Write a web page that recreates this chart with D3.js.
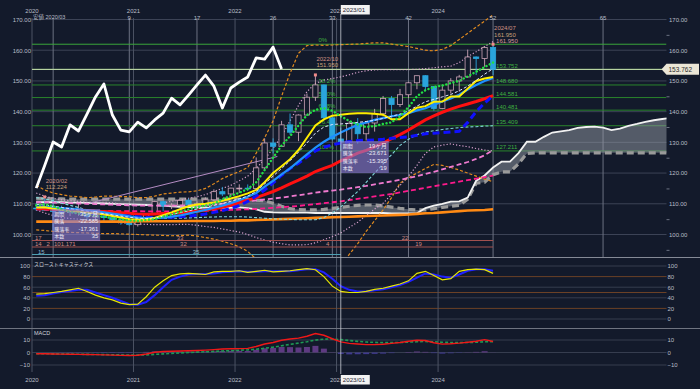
<!DOCTYPE html>
<html>
<head>
<meta charset="utf-8">
<script src="https://cdn.jsdelivr.net/npm/d3@7"></script>
<style>
  html, body { margin: 0; padding: 0; background: #131a2b; }
  svg { display: block; }
  text { font-family: 'Liberation Sans', 'Noto Sans CJK JP', sans-serif; }
  .jp { font-family: 'Noto Sans CJK JP', sans-serif; }
</style>
</head>
<body>
<div id="chart"></div>
<script>
// monthly bars, index 0 = 2020/01, last = 2024/07
const opens = [108.6,108.4,107.9,107.5,107.2,107.8,107.9,105.8,105.9,105.5,104.7,104.3,
  103.2,104.7,106.6,110.7,109.3,109.6,111.1,109.7,110.0,111.3,113.95,113.2,
  115.1,115.1,115.0,121.7,129.8,128.7,135.7,133.3,138.9,144.7,148.7,138.0,
  131.1,130.1,136.2,132.8,136.3,139.3,144.3,142.3,145.5,149.4,151.7,148.2,
  141.0,147.0,150.0,151.3,157.8,157.3,160.9];
const highs = [110.3,112.2,111.7,109.4,108.1,109.9,108.2,107.0,106.6,106.1,105.7,104.8,
  104.9,106.7,111.0,110.96,110.2,111.1,111.7,110.8,112.1,114.7,115.5,115.2,
  116.35,116.3,125.1,131.3,131.3,137.0,139.4,139.1,145.9,151.95,148.8,138.2,
  134.8,136.9,137.9,136.6,140.9,145.1,145.1,147.4,149.7,151.7,151.9,148.3,
  148.8,150.9,151.97,160.2,157.99,161.3,161.95];
const lows = [107.7,107.9,101.17,106.4,106.0,106.1,104.2,104.2,104.0,104.0,103.2,102.9,
  102.6,104.4,106.4,107.5,108.3,109.2,109.1,108.7,109.1,110.8,112.5,112.6,
  113.5,114.2,114.6,121.3,126.4,128.6,132.5,130.4,138.8,143.5,137.5,130.6,
  127.21,128.1,129.6,130.6,133.5,138.4,137.2,141.5,144.4,147.3,146.7,140.3,
  140.8,145.9,146.5,151.0,151.9,154.6,151.9];
const closes = [108.4,107.9,107.5,107.2,107.8,107.9,105.8,105.9,105.5,104.7,104.3,103.2,
  104.7,106.6,110.7,109.3,109.6,111.1,109.7,110.0,111.3,113.95,113.2,115.1,
  115.1,115.0,121.7,129.8,128.7,135.7,133.3,138.9,144.7,148.7,138.0,131.1,
  130.1,136.2,132.8,136.3,139.3,144.3,142.3,145.5,149.4,151.7,148.2,141.0,
  147.0,150.0,151.3,157.8,157.3,160.9,153.762];
const lastPrice = 153.762;

// moving averages
const maYellow = [108.8,108.9,108.4,108.0,107.6,107.4,107.1,106.9,106.5,106.0,105.5,105.0,
  104.8,104.8,105.4,106.3,107.2,108.2,109.2,109.8,110.0,110.4,111.0,111.7,
  112.5,113.4,114.5,117.0,120.0,122.2,124.5,127.5,131.5,135.5,137.5,138.7,
  139.0,139.3,139.5,139.5,139.3,139.0,137.5,137.5,139.5,141.3,141.8,143.2,
  143.3,144.9,144.9,147.5,150.0,150.8,151.3];
const maSky = [108.9,108.9,108.8,108.6,108.4,108.2,107.9,107.6,107.2,106.8,106.4,105.9,
  105.5,105.3,105.3,105.5,105.8,106.2,106.8,107.4,108.0,108.7,109.4,110.2,
  111.2,112.3,113.5,115.6,117.5,119.6,121.5,123.8,126.1,128.3,130.2,131.8,
  133.2,134.5,135.6,136.5,137.3,137.9,138.5,138.9,139.5,140.4,141.1,142.2,
  143.3,144.3,145.5,147.2,148.7,150.0,151.0];
const maRed = [108.5,108.4,108.3,108.2,108.1,108.0,107.8,107.6,107.5,107.3,107.1,106.9,
  106.7,106.6,106.7,106.8,106.9,107.1,107.3,107.6,108.0,108.4,108.9,109.5,
  110.5,111.2,112.0,113.0,114.0,115.2,116.5,117.7,119.0,120.5,121.5,122.5,
  124.0,125.2,126.5,127.4,128.5,129.8,131.2,132.5,134.0,135.7,137.3,138.6,
  139.8,140.8,141.7,142.5,143.3,144.2,145.2];
const maBlue = [109.0,109.0,108.5,108.0,107.5,107.2,107.0,106.8,106.6,106.4,106.2,106.0,
  105.8,105.6,105.5,105.5,105.6,105.8,106.0,106.3,106.7,107.2,107.8,108.5,
  109.4,110.8,112.5,114.5,116.8,119.3,121.5,123.2,125.2,127.2,128.4,129.2,
  129.8,130.3,130.6,130.7,130.8,131.0,131.3,131.6,131.8,132.3,132.8,133.0,
  133.2,133.4,133.6,136.5,140.0,142.8,145.2];
const maLime = [109.5,109.8,109.2,108.2,107.3,106.8,106.5,106.0,105.8,105.3,104.9,104.6,
  104.4,104.7,105.0,105.8,106.6,107.4,108.2,108.9,109.4,110.0,111.5,112.6,
  113.6,114.8,117.0,121.0,125.0,129.0,132.0,135.5,138.9,140.6,141.1,140.3,
  138.5,137.0,135.8,135.0,135.3,136.0,136.5,138.5,141.5,145.0,147.0,148.0,
  148.5,149.3,150.0,151.5,153.0,154.5,156.0];
const maLight = [109.8,109.6,109.2,108.8,108.4,108.0,107.6,107.2,106.8,106.4,106.0,105.6,
  105.3,105.2,105.4,105.9,106.5,107.1,107.7,108.3,108.9,109.5,110.1,110.8,
  111.6,112.5,114.0,116.5,119.0,121.5,124.0,126.8,129.8,133.0,135.0,135.8,
  136.0,136.2,136.5,136.8,137.2,137.8,138.5,139.2,140.3,141.8,143.2,144.0,
  144.8,145.6,146.8,148.3,150.2,152.2,154.0];
const maHotPink = [110.5,110.5,110.4,110.3,110.2,110.1,110.0,109.9,109.8,109.7,109.6,109.5,
  109.4,109.4,109.4,109.4,109.4,109.4,109.5,109.6,109.7,109.8,110.0,110.2,
  110.5,110.8,111.1,111.4,111.7,112.0,112.4,112.8,113.2,113.6,114.0,114.3,
  114.6,115.0,115.4,115.8,116.3,116.8,117.3,117.8,118.4,119.0,119.7,120.4,
  121.2,122.0,122.8,123.6,124.6,125.8,127.5];
const maDeepPink = [108.2,108.1,108.0,107.9,107.9,107.8,107.8,107.7,107.7,107.6,107.6,107.6,
  107.6,107.5,107.5,107.5,107.5,107.5,107.5,107.6,107.7,107.8,107.9,108.0,
  108.1,108.2,108.3,108.5,108.7,108.9,109.1,109.3,109.6,109.9,110.2,110.5,
  110.8,111.2,111.6,112.0,112.4,112.8,113.2,113.7,114.2,114.7,115.2,115.7,
  116.2,116.7,117.2,117.7,118.2,118.7,119.2];
const maOrange = [104.2,104.2,104.2,104.2,104.2,104.2,104.2,104.2,104.2,104.2,104.2,104.2,
  104.3,104.3,104.3,104.3,104.3,104.3,104.4,104.4,104.4,104.4,104.5,104.5,
  104.6,104.6,104.7,104.8,104.9,105.0,105.1,105.2,105.3,105.4,105.5,105.6,
  105.7,105.8,105.9,106.0,106.1,106.2,106.3,106.4,106.5,106.7,106.9,107.0,
  107.2,107.4,107.6,107.8,107.9,108.0,108.2];
const maCyan = [112.0,111.6,111.0,110.2,109.5,108.8,108.0,107.5,107.0,106.5,106.0,105.6,
  105.4,105.3,105.3,105.3,105.3,105.3,105.4,105.5,105.6,105.7,105.8,105.8,
  105.8,105.7,105.5,105.3,105.1,105.0,104.9,104.8,104.8,104.8,105.5,107.0,
  109.0,111.5,114.0,117.0,120.0,123.0,126.0,129.0,131.0,132.5,133.3,133.8,
  134.2,134.5,134.8,135.0,135.1,135.3,135.4];

// bollinger bands
const bbUp2 = [116.0,114.5,113.5,113.0,112.5,112.3,112.0,112.2,112.5,112.5,112.3,112.3,
  112.0,112.0,112.5,113.2,113.5,113.8,113.9,114.2,115.0,116.5,118.2,119.4,
  120.5,121.8,126.5,131.5,137.0,145.0,152.5,159.0,161.5,161.7,161.6,161.7,
  161.8,161.9,162.0,162.2,162.4,162.4,162.0,161.6,161.2,160.6,160.0,159.8,
  160.3,161.5,163.5,165.5,167.5,169.5,171.5];
const bbLo2 = [101.5,101.3,101.0,100.8,100.7,100.6,100.5,100.4,100.3,100.3,100.2,100.1,
  100.0,99.9,99.8,99.7,99.6,99.7,99.8,99.5,99.0,98.5,97.8,97.0,
  96.0,94.5,92.0,89.0,86.0,83.0,81.0,80.0,80.0,81.0,83.0,86.0,
  90.0,93.5,97.0,101.0,104.5,108.0,112.0,116.7,118.5,120.0,121.5,122.8,
  122.5,121.8,121.0,120.0,119.0,118.0,117.2];
const bbUp1 = [113.5,112.5,111.8,111.3,111.0,110.8,110.5,110.5,110.5,110.3,110.0,109.8,
  109.5,109.5,109.8,110.3,110.8,111.3,111.8,112.3,113.0,114.0,115.0,116.0,
  117.5,119.0,121.5,124.5,128.0,132.0,137.0,142.0,146.5,149.2,150.3,150.8,
  151.3,152.0,152.8,153.3,153.6,153.7,153.7,153.7,153.7,153.8,154.0,154.3,
  154.6,154.8,156.0,157.9,159.5,161.2,162.8];
const bbLo1 = [108.0,107.0,106.2,105.5,105.2,105.0,104.7,104.4,104.2,104.0,103.8,103.6,
  103.4,103.3,103.2,103.2,103.2,103.3,103.3,103.0,102.6,102.3,101.8,101.3,
  100.8,100.0,99.0,98.2,97.5,97.0,96.6,96.6,96.7,97.3,98.3,99.3,
  100.5,102.3,104.0,106.2,108.3,110.2,113.0,116.0,119.0,122.5,126.4,128.5,
  129.1,129.5,129.0,128.6,128.0,127.5,127.2];

// cloud spans, run 21 months past the last bar
const spanA = [110.5,110.5,110.5,110.5,110.4,110.4,110.3,110.2,110.1,110.0,109.9,109.8,
  109.7,109.6,109.5,109.4,109.2,109.0,108.9,108.8,108.7,108.6,108.6,108.7,
  108.8,108.6,108.2,107.4,107.2,107.1,107.1,107.1,107.1,107.0,107.0,107.0,
  107.0,107.0,107.0,107.0,107.0,107.0,106.9,106.9,106.9,106.9,108.6,109.4,
  110.0,110.7,110.8,112.0,117.5,119.2,121.8,123.7,123.7,126.5,130.2,130.2,
  131.8,133.2,133.6,134.0,134.7,135.0,135.1,134.8,134.0,134.5,135.4,136.0,
  136.7,137.2,137.6,138.0];
const spanB = [111.8,111.7,111.6,111.6,111.5,111.5,111.5,111.5,111.5,111.5,111.5,111.5,
  111.5,111.5,111.5,111.5,111.5,111.5,111.5,111.5,111.5,111.5,111.5,111.5,
  111.5,111.4,111.2,111.0,110.2,109.2,108.4,108.1,108.0,108.0,108.2,108.5,
  108.8,109.2,109.5,109.6,109.6,109.3,108.9,108.5,108.2,108.0,108.0,108.4,
  108.8,109.2,109.5,111.5,116.7,117.0,119.5,120.4,120.4,123.0,126.4,126.6,
  126.6,126.6,126.6,126.6,126.6,126.6,126.6,126.6,126.6,126.6,126.6,126.6,
  126.6,126.6,126.6,126.6];

// comparison path (white, from 2020/01)
const compareLine = [115.1,122.5,130.1,128.5,135.7,133.7,139.2,144.8,149.0,138.9,134.0,133.4,
  136.6,134.7,137.3,139.5,144.4,142.2,145.4,148.7,151.9,148.3,141.2,147.7,
  149.6,151.3,157.5,157.1,161.0,153.9];

// trendline anchors [month index, price]
const trendLine = [[6.4, 110.3], [28.5, 125.4]];

// fibonacci retracement 2023/01 low -> 2024/07 high
const fibLevels = [161.950, 153.752, 148.680, 144.581, 140.481, 135.409, 127.211];
const fibPct = ['0%', '23.6%', '38.2%', '50.0%', '61.8%', '76.4%', '100%'];

// bar counts from the 2020/03 low
const countStart = 2;
const counts = [9, 17, 26, 33, 42, 52, 65];

// high / low markers
const highMarks = [
  { m: 1, date: '2020/02', val: 112.224 },
  { m: 33, date: '2022/10', val: 151.95 },
  { m: 54, date: '2024/07', val: 161.95 }
];

// measurement boxes
const boxLeft = [['期間', '35ヶ月'], ['騰落', '-22.585'], ['騰落率', '-17.361'], ['本数', '35']];
const boxRight = [['期間', '19ヶ月'], ['騰落', '-23.671'], ['騰落率', '-15.395'], ['本数', '19']];

// cycle rows under the price panel: [month position, text]
const cycleRows = [
  { end: 54.5, color: '#a3514f', labels: [[0.35, '17'], [17.1, '33'], [43.7, '22']] },
  { end: 54.5, color: '#a3514f', labels: [[0.35, '14'], [1.7, '2'], [2.6, '101.171'], [17.5, '32'], [34.75, '4'], [45.3, '19']] },
  { end: 36.5, color: '#4d9fb2', labels: [[0.7, '15'], [19.0, '35']] }
];

// oscillators
const stochK = [47,48,50,52,55,58,52,45,40,36,30,27,28,42,60,72,82,85,86,85,84,89,90,90,91,88,90,92,89,90,
  91,93,95,93,80,62,52,50,50,52,56,58,62,66,72,86,90,82,74,76,90,93,94,93,86];
const stochD = [44,45,48,51,53,55,55,50,45,40,34,28,27,32,45,60,74,80,84,85,85,86,88,89,90,89,89,90,90,90,
  90,92,94,94,88,76,62,55,52,52,54,56,60,64,70,78,86,84,80,78,84,91,94,94,91];
const macdLine = [-1,-1,-1.2,-1.3,-1.4,-1.5,-1.6,-1.7,-1.9,-2.1,-2.3,-2.4,-2.2,-1.2,0.2,0.8,1.0,1.2,1.4,1.6,
  1.9,2.3,2.8,3.0,3.1,3.3,4.8,6.8,8.0,9.8,10.8,11.5,13.0,15.2,13.8,11.0,8.5,7.3,6.8,6.3,
  6.3,6.6,7.3,8.0,9.0,9.8,9.6,7.8,6.7,7.0,7.5,8.2,9.0,10.3,8.8];
const signalLine = [-1,-1,-1.1,-1.2,-1.3,-1.4,-1.5,-1.6,-1.7,-1.8,-1.9,-2.0,-2.1,-1.9,-1.5,-1.1,-0.7,-0.3,0,0.3,
  0.6,0.9,1.2,1.5,1.8,2.1,2.6,3.4,4.3,5.4,6.5,7.5,8.6,9.9,10.7,10.8,10.3,9.6,8.9,8.4,
  8.1,7.9,7.9,8.0,8.3,8.6,8.8,8.6,8.2,8.0,7.9,8.0,8.2,8.6,8.7];
const macdHist = [0,0,-0.1,-0.2,-0.3,-0.3,-0.3,-0.3,-0.4,-0.4,-0.5,-0.4,-0.1,0.5,0.9,1.0,0.9,0.8,0.8,0.7,
  0.8,0.9,1.2,1.3,1.3,1.2,2.2,3.4,3.7,4.4,4.3,4.0,4.4,5.3,3.1,0.2,-1.2,-1.5,-1.4,-1.3,
  -1.1,-0.9,-0.5,0,0.4,0.8,0.5,-0.5,-0.9,-0.6,-0.3,0.2,0.5,1.0,0.1];

const priceTicks = [100, 110, 120, 130, 140, 150, 160, 170];
const stochTicks = [0, 20, 40, 60, 80, 100];
const macdTicks = [-10, 0, 10];
const years = [2020, 2021, 2022, 2023, 2024];
const crossM = 36;

const width = 700, height = 389;
const bg = '#131a2b';
const left = 32, right = 666.5;

let x = d3.scaleLinear().domain([0, 75]).range([left, right]);
let y = d3.scaleLinear().domain([100, 170]).range([234.5, 19.5]);
let yStoch = d3.scaleLinear().domain([0, 100]).range([319, 266]);
let yMacd = d3.scaleLinear().domain([-10, 10]).range([365, 340]);
const bx = i => x(i + 0.5);
const monthLabel = i => (2020 + Math.floor(i / 12)) + '/' + String(i % 12 + 1).padStart(2, '0');

const svg = d3.select('#chart').append('svg')
  .attr('width', width)
  .attr('height', height);

svg.append('rect').attr('width', width).attr('height', height).attr('fill', bg);

const defs = svg.append('defs');
defs.append('clipPath').attr('id', 'clipMain').append('rect')
  .attr('x', left).attr('y', 10).attr('width', right - left).attr('height', 247);
defs.append('clipPath').attr('id', 'clipSub').append('rect')
  .attr('x', left).attr('y', 258).attr('width', right - left).attr('height', 114);

// ---------- grid ----------
const grid = svg.append('g');
grid.selectAll('.hg').data(priceTicks).enter().append('line')
  .attr('x1', left).attr('x2', right)
  .attr('y1', d => y(d)).attr('y2', d => y(d))
  .attr('stroke', '#3c4356').attr('stroke-width', 1);

grid.selectAll('.sg').data([0, 40, 60, 100]).enter().append('line')
  .attr('x1', left).attr('x2', right)
  .attr('y1', d => yStoch(d)).attr('y2', d => yStoch(d))
  .attr('stroke', '#363d4f');
grid.selectAll('.sb').data([20, 50, 80]).enter().append('line')
  .attr('x1', left).attr('x2', right)
  .attr('y1', d => yStoch(d)).attr('y2', d => yStoch(d))
  .attr('stroke', '#6b4126');
grid.selectAll('.mg').data(macdTicks).enter().append('line')
  .attr('x1', left).attr('x2', right)
  .attr('y1', d => yMacd(d)).attr('y2', d => yMacd(d))
  .attr('stroke', '#363d4f');

// year lines through every panel
grid.selectAll('.yl').data(years).enter().append('line')
  .attr('x1', d => x((d - 2020) * 12)).attr('x2', d => x((d - 2020) * 12))
  .attr('y1', 18).attr('y2', 372)
  .attr('stroke', '#4c5364');

// count lines in the price panel
grid.selectAll('.cl').data([0].concat(counts)).enter().append('line')
  .attr('x1', d => bx(countStart + d)).attr('x2', d => bx(countStart + d))
  .attr('y1', 18).attr('y2', 257)
  .attr('stroke', '#6c7282');

// separators
svg.append('line').attr('x1', 0).attr('x2', width).attr('y1', 257.5).attr('y2', 257.5).attr('stroke', '#858a96');
svg.append('line').attr('x1', 0).attr('x2', width).attr('y1', 328.5).attr('y2', 328.5).attr('stroke', '#6f7480');

// ---------- price panel ----------
const main = svg.append('g').attr('clip-path', 'url(#clipMain)');

main.selectAll('.fib').data(fibLevels).enter().append('line')
  .attr('x1', left).attr('x2', right)
  .attr('y1', d => y(d)).attr('y2', d => y(d))
  .attr('stroke', (d, i) => i === 0 ? '#3aa63a' : '#2a852c').attr('stroke-width', 1);

main.append('line')
  .attr('x1', left).attr('x2', right)
  .attr('y1', y(lastPrice)).attr('y2', y(lastPrice))
  .attr('stroke', '#cfe2b4').attr('stroke-width', 1);

// the 23.6% tag sits under the 2022/10 high label in the original, so it is left out
main.selectAll('.fibp').data(fibLevels.filter((d, i) => i !== 1)).enter().append('text')
  .attr('x', bx(33) + 3).attr('y', d => y(d) - 2)
  .attr('font-size', 6).attr('fill', '#3fb040')
  .text(d => fibPct[fibLevels.indexOf(d)]);

// cloud
const cloud = d3.area()
  .x((d, i) => bx(i))
  .y0((d, i) => y(spanB[i]))
  .y1(d => y(d));
main.append('path').datum(spanA).attr('d', cloud)
  .attr('fill', 'rgba(150,155,166,0.5)');

const line = yScale => d3.line().x((d, i) => bx(i)).y(d => yScale(d));

main.append('path').datum(spanB).attr('d', line(y))
  .attr('fill', 'none').attr('stroke', '#9a9a9a').attr('stroke-width', 3.2).attr('stroke-dasharray', '7,4');
main.append('path').datum(spanA).attr('d', line(y))
  .attr('fill', 'none').attr('stroke', '#f2f2f2').attr('stroke-width', 1.8);

// bands
[[bbUp2, '#e08a1f', '3,2'], [bbLo2, '#e08a1f', '3,2'], [bbUp1, '#d6a0cc', '1.2,2'], [bbLo1, '#d6a0cc', '1.2,2']]
  .forEach(b => {
    main.append('path').datum(b[0]).attr('d', line(y))
      .attr('fill', 'none').attr('stroke', b[1]).attr('stroke-width', 1.2).attr('stroke-dasharray', b[2]);
  });

// trendline
main.append('path').datum(trendLine)
  .attr('d', d3.line().x(d => bx(d[0])).y(d => y(d[1])))
  .attr('stroke', '#b48cc4').attr('stroke-width', 1).attr('fill', 'none');

// candles
const bars = d3.range(opens.length).map(i => ({ i: i, o: opens[i], h: highs[i], l: lows[i], c: closes[i] }));
const upCol = '#cba4b6', downCol = '#2aa5dc';
const candle = main.selectAll('.candle').data(bars).enter().append('g');
candle.append('line')
  .attr('x1', d => bx(d.i)).attr('x2', d => bx(d.i))
  .attr('y1', d => y(d.h)).attr('y2', d => y(d.l))
  .attr('stroke', d => d.c >= d.o ? upCol : downCol).attr('stroke-width', 0.9);
candle.append('rect')
  .attr('x', d => bx(d.i) - 2.6).attr('width', 5.2)
  .attr('y', d => y(Math.max(d.o, d.c)))
  .attr('height', d => Math.max(0.8, Math.abs(y(d.o) - y(d.c))))
  .attr('fill', d => d.c >= d.o ? bg : downCol)
  .attr('stroke', d => d.c >= d.o ? upCol : downCol).attr('stroke-width', 0.8);

// moving averages
const maSet = [
  { data: maOrange, color: '#ff8a14', w: 2.6, dash: null },
  { data: maDeepPink, color: '#ff1a8c', w: 1.8, dash: '5,3' },
  { data: maHotPink, color: '#f07ad0', w: 1.8, dash: '5,3' },
  { data: maCyan, color: '#7fd6d9', w: 1.1, dash: '3,2' },
  { data: maRed, color: '#ff1010', w: 3, dash: null },
  { data: maBlue, color: '#1010ff', w: 3, dash: '7,4' },
  { data: maSky, color: '#1e90ff', w: 2.2, dash: null },
  { data: maYellow, color: '#ffee00', w: 2, dash: null },
  { data: maLight, color: '#dfe6ff', w: 1, dash: '3,2' },
  { data: maLime, color: '#22dd44', w: 2.4, dash: '0.1,3.6' }
];
maSet.forEach(s => {
  main.append('path').datum(s.data).attr('d', line(y))
    .attr('fill', 'none').attr('stroke', s.color).attr('stroke-width', s.w)
    .attr('stroke-dasharray', s.dash).attr('stroke-linecap', s.dash && s.dash.startsWith('0.1') ? 'round' : 'butt');
});

// comparison line
main.append('path').datum(compareLine).attr('d', line(y))
  .attr('fill', 'none').attr('stroke', '#ffffff').attr('stroke-width', 2.8).attr('stroke-linejoin', 'round');

// cycle rows
const rowY = [240.5, 247, 254.5];
cycleRows.forEach((r, k) => {
  main.append('line').attr('x1', left).attr('x2', x(r.end))
    .attr('y1', rowY[k]).attr('y2', rowY[k]).attr('stroke', r.color).attr('stroke-width', 1.2);
  main.selectAll('.cr' + k).data(r.labels).enter().append('text')
    .attr('x', d => x(d[0])).attr('y', rowY[k] - 1)
    .attr('font-size', 6).attr('fill', k === 2 ? '#8fb6c6' : '#cc8a84')
    .text(d => d[1]);
});

// fib value labels at last bar
main.selectAll('.fibv').data(fibLevels).enter().append('text')
  .attr('x', bx(54) + 3).attr('y', d => y(d) - 1.5)
  .attr('font-size', 6).attr('fill', (d, i) => i === 0 ? '#d89a9a' : '#3fb040')
  .text(d => d3.format('.3f')(d));

// high markers
highMarks.forEach(h => {
  main.append('rect').attr('x', bx(h.m) - 1.5).attr('y', y(h.val) - 1.5)
    .attr('width', 3).attr('height', 3).attr('fill', '#f08a8a');
  main.append('text').attr('x', bx(h.m) + 1).attr('y', y(h.val) - 14)
    .attr('font-size', 6).attr('fill', '#cf9285').text(h.date);
  main.append('text').attr('x', bx(h.m) + 1).attr('y', y(h.val) - 7.5)
    .attr('font-size', 6).attr('fill', '#c9a078').text(d3.format('.3f')(h.val));
});

// measurement boxes
function infoBox(rows, x0, y0) {
  const g = svg.append('g').attr('transform', `translate(${x0},${y0})`);
  g.append('rect').attr('width', 48).attr('height', 32)
    .attr('fill', 'rgba(140,125,210,0.62)');
  rows.forEach((r, i) => {
    g.append('text').attr('class', 'jp').attr('x', 2).attr('y', 6.5 + i * 7.6)
      .attr('font-size', 5).attr('fill', '#eceaf6').text(r[0]);
    g.append('text').attr('x', 46).attr('y', 6.5 + i * 7.6).attr('text-anchor', 'end')
      .attr('font-size', 5.8).attr('fill', '#eceaf6').text(r[1]);
  });
}
infoBox(boxLeft, bx(countStart) - 1, 209);
infoBox(boxRight, bx(crossM), 141);

// ---------- stochastics ----------
const sub = svg.append('g').attr('clip-path', 'url(#clipSub)');
sub.append('path').datum(stochD).attr('d', line(yStoch))
  .attr('fill', 'none').attr('stroke', '#2020ff').attr('stroke-width', 2);
sub.append('path').datum(stochK).attr('d', line(yStoch))
  .attr('fill', 'none').attr('stroke', '#e6e600').attr('stroke-width', 1.2);

// ---------- macd ----------
sub.selectAll('.hist').data(macdHist).enter().append('rect')
  .attr('x', (d, i) => bx(i) - 3).attr('width', 6)
  .attr('y', d => yMacd(Math.max(0, d)))
  .attr('height', d => Math.abs(yMacd(d) - yMacd(0)))
  .attr('fill', d => d >= 0 ? '#5e3a82' : '#3f3a8e');
sub.append('path').datum(signalLine).attr('d', line(yMacd))
  .attr('fill', 'none').attr('stroke', '#1f9a55').attr('stroke-width', 1.6).attr('stroke-dasharray', '3,2');
sub.append('path').datum(macdLine).attr('d', line(yMacd))
  .attr('fill', 'none').attr('stroke', '#f01818').attr('stroke-width', 1.4);

svg.append('text').attr('class', 'jp').attr('x', 34).attr('y', 266)
  .attr('font-size', 5).attr('fill', '#d0d3da').text('スローストキャスティクス');
svg.append('text').attr('x', 34).attr('y', 335)
  .attr('font-size', 5.5).attr('fill', '#d0d3da').text('MACD');

// ---------- axes ----------
function styleAxis(g) {
  g.select('.domain').remove();
  g.selectAll('text').attr('fill', '#b9bdc7').attr('font-size', 6)
    .attr('font-family', 'Liberation Sans');
}
svg.append('g').attr('transform', `translate(${left},0)`)
  .call(d3.axisLeft(y).tickValues(priceTicks).tickFormat(d3.format('.2f')).tickSize(0).tickPadding(1))
  .call(styleAxis);
svg.append('g').attr('transform', `translate(${right},0)`)
  .call(d3.axisRight(y).tickValues(priceTicks).tickFormat(d3.format('.2f')).tickSize(0).tickPadding(2.5))
  .call(styleAxis);
svg.append('g').attr('transform', `translate(${right},0)`)
  .call(d3.axisRight(y).tickValues([95, 105, 115, 125, 135, 145, 155, 165]).tickFormat('').tickSize(3))
  .call(g => { g.select('.domain').remove(); g.selectAll('line').attr('stroke', '#6c7282'); });
svg.append('g').attr('transform', `translate(${left},0)`)
  .call(d3.axisLeft(yStoch).tickValues(stochTicks).tickSize(0).tickPadding(2))
  .call(styleAxis);
svg.append('g').attr('transform', `translate(${right},0)`)
  .call(d3.axisRight(yStoch).tickValues(stochTicks).tickSize(0).tickPadding(1))
  .call(styleAxis);
svg.append('g').attr('transform', `translate(${left},0)`)
  .call(d3.axisLeft(yMacd).tickValues(macdTicks).tickSize(0).tickPadding(2))
  .call(styleAxis);
svg.append('g').attr('transform', `translate(${right},0)`)
  .call(d3.axisRight(yMacd).tickValues(macdTicks).tickSize(0).tickPadding(1))
  .call(styleAxis);

// time labels top and bottom
[13, 382].forEach(ty => {
  svg.selectAll(null).data(years).enter().append('text')
    .attr('x', d => x((d - 2020) * 12)).attr('y', ty)
    .attr('text-anchor', 'middle').attr('font-size', 6).attr('fill', '#b9bdc7')
    .text(d => d);
});
svg.selectAll('.cnt').data(counts).enter().append('text')
  .attr('x', d => bx(countStart + d)).attr('y', 19.5)
  .attr('text-anchor', 'middle').attr('font-size', 6).attr('fill', '#b9bdc7')
  .text(d => d);
svg.append('text').attr('x', 33).attr('y', 19).attr('font-size', 5.5).attr('fill', '#b9bdc7')
  .text('安値 ' + monthLabel(countStart));

// crosshair
const cx = bx(crossM);
svg.append('line').attr('x1', cx).attr('x2', cx).attr('y1', 14).attr('y2', 374)
  .attr('stroke', '#c9cdd6').attr('stroke-width', 0.8);
[[5, 14.5], [375, 384.5]].forEach(b => {
  svg.append('rect').attr('x', cx).attr('y', b[0]).attr('width', 29).attr('height', b[1] - b[0])
    .attr('fill', '#f2f2f2');
  svg.append('text').attr('x', cx + 2).attr('y', b[1] - 2.5).attr('font-size', 6.2).attr('fill', '#1e2233')
    .text(monthLabel(crossM));
});

// last price tag
const py = y(lastPrice);
svg.append('path')
  .attr('d', `M${right - 5},${py} L${right},${py - 5.5} L${width - 1},${py - 5.5} L${width - 1},${py + 5.5} L${right},${py + 5.5} Z`)
  .attr('fill', '#ebe6d6');
svg.append('text').attr('x', right + 2).attr('y', py + 2.2).attr('font-size', 6.5).attr('fill', '#2a2a2a')
  .text(d3.format('.3f')(lastPrice));
</script>
</blockquote>
</body>
</html>
